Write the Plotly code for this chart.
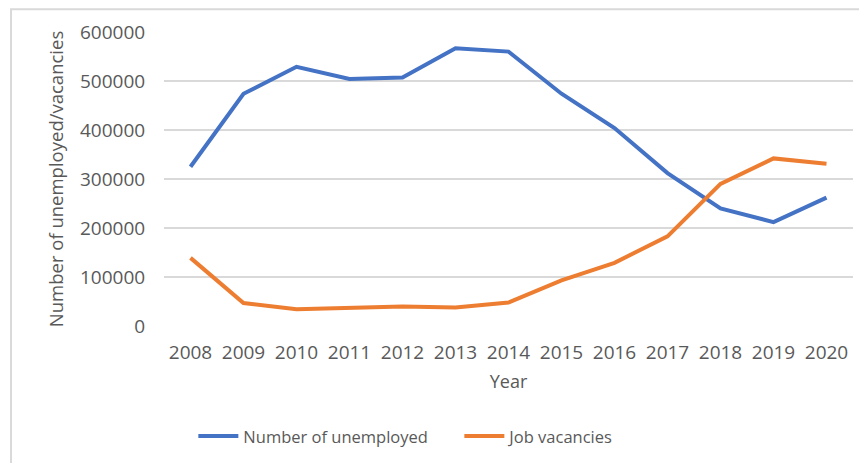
import plotly.graph_objects as go

# ── data ────────────────────────────────────────────────────────────────────
years = ["2008", "2009", "2010", "2011", "2012", "2013", "2014",
         "2015", "2016", "2017", "2018", "2019", "2020"]
unemployed = [325000, 474000, 529000, 504000, 507000, 567000, 560000,
              474000, 404000, 312000, 240000, 212000, 262000]
vacancies = [139000, 47000, 34000, 36000, 40000, 38000, 48000,
             93000, 129000, 183000, 290000, 342000, 331000]
y_ticks = [0, 100000, 200000, 300000, 400000, 500000, 600000]

BLUE = "#4472C4"
ORANGE = "#ED7D31"
GREY_TXT = "#595959"
GRID = "#D9D9D9"
FONT = "Open Sans"

fig = go.Figure()

fig.add_trace(go.Scatter(
    x=years, y=unemployed, name="Number of unemployed",
    mode="lines", line=dict(color=BLUE, width=4),
))
fig.add_trace(go.Scatter(
    x=years, y=vacancies, name="Job vacancies",
    mode="lines", line=dict(color=ORANGE, width=4),
))

# chart-area border (only top and left edges fall inside the picture)
fig.add_shape(
    type="rect", xref="paper", yref="paper",
    x0=-0.222, x1=1.05, y0=-0.6, y1=1.077,
    line=dict(color=GRID, width=2), fillcolor="rgba(0,0,0,0)", layer="below",
)

# page body keeps its default 8px margin, so the figure is sized to fit
fig.update_layout(
    width=859, height=455,
    margin=dict(l=156, r=14, t=24, b=137, autoexpand=False),
    paper_bgcolor="white", plot_bgcolor="white",
    font=dict(family=FONT, size=17, color=GREY_TXT),
    showlegend=True,
    legend=dict(
        orientation="h", x=0.0426, y=-0.3755,
        xanchor="left", yanchor="middle",
        font=dict(family=FONT, size=16.5, color=GREY_TXT),
        itemwidth=40, tracegroupgap=0,
        entrywidth=211, entrywidthmode="pixels",
    ),
)

fig.update_xaxes(
    type="category", range=[-0.5, 12.5], automargin=False,
    showgrid=False, showline=False, zeroline=False,
    ticks="outside", ticklen=9, tickcolor="rgba(0,0,0,0)",
    tickfont=dict(family=FONT, size=19, color=GREY_TXT),
    title=dict(text="Year", standoff=11,
               font=dict(family=FONT, size=18, color=GREY_TXT)),
)
fig.update_yaxes(
    range=[0, 600000], tickvals=y_ticks, automargin=False,
    tickformat="d",
    showgrid=True, gridcolor=GRID, gridwidth=1.5,
    showline=False, zeroline=False,
    ticks="outside", ticklen=14, tickcolor="rgba(0,0,0,0)",
    tickfont=dict(family=FONT, size=19, color=GREY_TXT),
    title=dict(text="Number of unemployed/vacancies", standoff=11,
               font=dict(family=FONT, size=18.5, color=GREY_TXT)),
)

fig.write_html("out.html")
